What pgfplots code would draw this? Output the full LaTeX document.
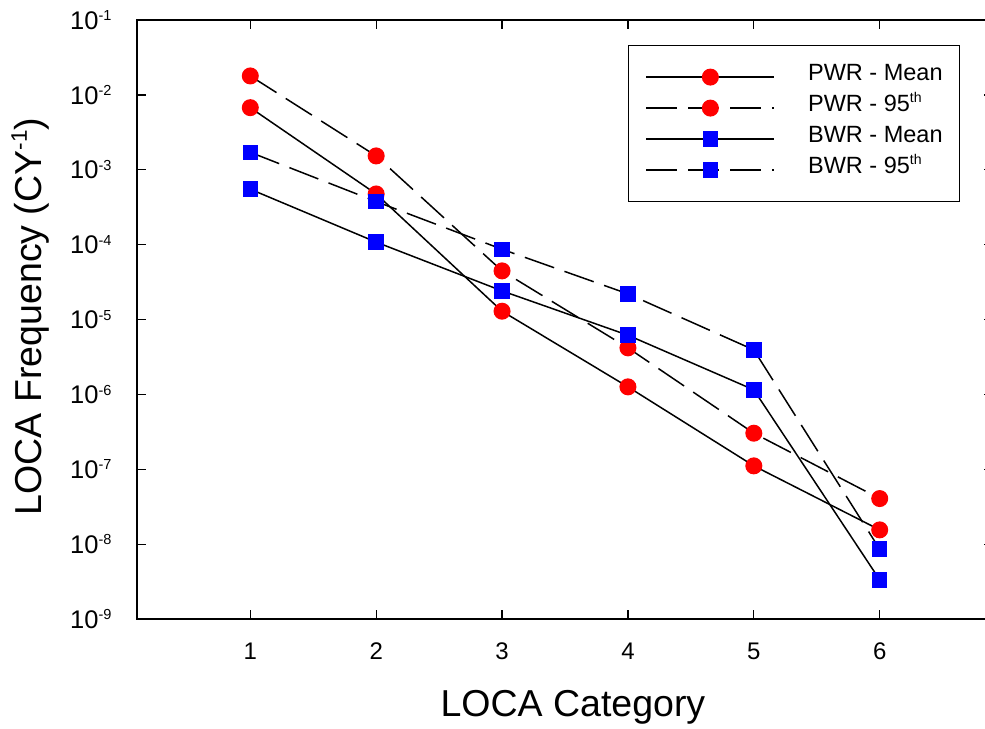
\documentclass[border=0pt]{standalone}
\usepackage{fontspec}
\setmainfont{Liberation Sans}
\usepackage{graphicx}
\usepackage{pgfplots}
\usepackage{pgfplotstable}
\pgfplotsset{compat=1.18}
\newcommand\sups[1]{\raisebox{0.4em}{\scalebox{0.6}{#1}}}
\newcommand\tsups[1]{\raisebox{0.33em}{\scalebox{0.57}{#1}}}

\pgfplotstableread{
x pwrmean pwr95 bwrmean bwr95
1 6.75e-3 1.79e-2 5.5e-4  1.71e-3
2 4.75e-4 1.53e-3 1.08e-4 3.76e-4
3 1.29e-5 4.46e-5 2.41e-5 8.67e-5
4 1.26e-6 4.18e-6 6.17e-6 2.2e-5
5 1.11e-7 3.03e-7 1.15e-6 3.93e-6
6 1.55e-8 4.06e-8 3.34e-9 8.57e-9
}\loca

\begin{document}
\begin{tikzpicture}
\path[clip, use as bounding box] (-54.8pt,-44pt) rectangle (339.2pt,247.6pt);
\begin{axis}[
  scale only axis, width=342.4pt, height=239.6pt,
  at={(0pt,0pt)}, anchor=south west,
  xmin=0.1, xmax=6.9,
  ymode=log, log basis y=10, ymin=1e-9, ymax=1e-1,
  xtick={1,2,3,4,5,6}, xticklabels={1,2,3,4,5,6},
  ytick={1e-9,1e-8,1e-7,1e-6,1e-5,1e-4,1e-3,1e-2,1e-1},
  yticklabel={\pgfmathtruncatemacro\e{round(\tick)}10\tsups{\e}},
  /pgf/number format/assume math mode=true,
  xticklabel style={font=\fontsize{9.6}{11}\selectfont, anchor=base, inner sep=0pt, yshift=-16pt},
  yticklabel style={font=\fontsize{10.2}{12}\selectfont, anchor=base east, inner sep=0pt, xshift=-10pt, yshift=-3.65pt},
  xlabel={LOCA Category},
  ylabel={LOCA Frequency (CY\sups{-1})},
  label style={font=\fontsize{15}{18}\selectfont},
  xlabel style={at={(axis description cs:0.5093,0)}, anchor=base, inner sep=0pt, yshift=-39.1pt},
  ylabel style={at={(axis description cs:-0.111,0.505)}, anchor=base, inner sep=0pt},
  axis line style={line width=0.6pt},
  tick style={line width=0.5pt, black},
  major tick length=3.6pt, minor tick length=2pt,
  legend image code/.code={\draw[mark repeat=2, mark phase=2, #1] plot coordinates {(0pt,0pt) (25.6pt,0pt) (51.2pt,0pt)};},
  legend style={at={(axis description cs:0.5736,0.9583)}, anchor=north west,
    draw=black, line width=0.5pt, inner xsep=6.8pt, inner ysep=6.4pt,
    font=\fontsize{9.4}{11}\selectfont, row sep=0pt, column sep=0pt,
    nodes={inner sep=0pt, text height=7.6pt, text depth=4.8pt}},
  legend cell align=left,
]
\addplot[black, line width=0.6pt, mark=*, mark size=3.1pt, mark options={solid, fill=red, draw=red}]
  table[x=x, y=pwrmean] {\loca};
\addlegendentry{\hspace{13.2pt}PWR - Mean}
\addplot[black, line width=0.6pt, dash pattern=on 12.4pt off 4.4pt, mark=*, mark size=3.1pt, mark options={solid, fill=red, draw=red}]
  table[x=x, y=pwr95] {\loca};
\addlegendentry{\hspace{13.2pt}PWR - 95\sups{th}}
\addplot[black, line width=0.6pt, mark=square*, mark size=2.8pt, mark options={solid, fill=blue, draw=blue}]
  table[x=x, y=bwrmean] {\loca};
\addlegendentry{\hspace{13.2pt}BWR - Mean}
\addplot[black, line width=0.6pt, dash pattern=on 12.4pt off 4.4pt, mark=square*, mark size=2.8pt, mark options={solid, fill=blue, draw=blue}]
  table[x=x, y=bwr95] {\loca};
\addlegendentry{\hspace{13.2pt}BWR - 95\sups{th}}
\end{axis}
\end{tikzpicture}
\end{document}
